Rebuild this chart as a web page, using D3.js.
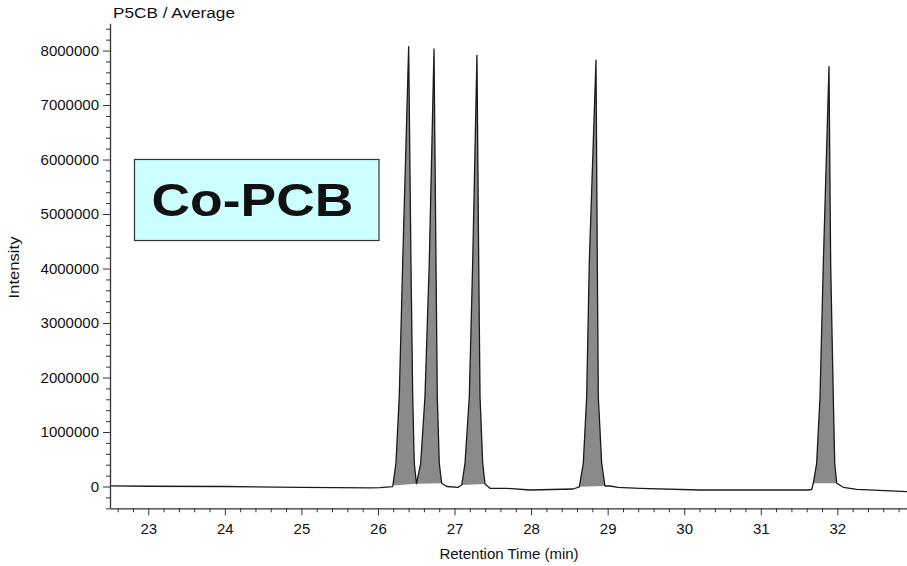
<!DOCTYPE html>
<html>
<head>
<meta charset="utf-8">
<script src="https://cdn.jsdelivr.net/npm/d3@7"></script>
<style>
  body { margin: 0; background: #fff; }
  text { font-family: "Liberation Sans", Arial, sans-serif; fill: #111; }
</style>
</head>
<body>
<script>
// chromatogram trace (min, counts)
var retentionTime = [22.5, 23.0, 24.0, 25.0, 25.9, 26.026, 26.187, 26.195,
  26.235, 26.278, 26.323, 26.401, 26.431, 26.454, 26.474, 26.503,
  26.558, 26.614, 26.670, 26.732, 26.758, 26.775, 26.801, 26.832,
  26.9, 27.049, 27.094, 27.137, 27.193, 27.237, 27.293, 27.316, 27.333, 27.368, 27.398,
  27.463, 27.681, 27.986, 28.55, 28.630,
  28.682, 28.726, 28.760, 28.848, 28.865, 28.878, 28.922, 28.965,
  29.031, 29.135, 29.422, 30.206, 31.6, 31.665, 31.686,
  31.730, 31.774, 31.817, 31.891, 31.913, 31.947, 31.966, 31.992,
  32.078, 32.253, 32.91];
var intensity = [10000, 5000, 0, -15000, -25000, -22000, -4000, 20000,
  426000, 1648000, 4095000, 8070000, 4095000, 1648000, 426000, 50000,
  426000, 1648000, 4095000, 8028000, 4095000, 1648000, 426000, 59000,
  0, -15000, 28000, 426000, 1648000, 4095000, 7912000, 4095000, 1648000, 426000, 46000,
  -33000, -33000, -64000, -46000, -5000,
  426000, 1648000, 4095000, 7826000, 4095000, 1648000, 426000, 9000,
  9000, -15000, -33000, -64000, -64000, -55000, 59000,
  426000, 1648000, 4095000, 7703000, 4095000, 1648000, 426000, 59000,
  -15000, -51000, -95000];

// integrated peak windows (shaded)
var peakStart = [26.195, 26.503, 27.094, 28.630, 31.686];
var peakEnd   = [26.503, 26.832, 27.398, 28.965, 31.992];

var xTicks = [23, 24, 25, 26, 27, 28, 29, 30, 31, 32];
var yTicks = [0, 1000000, 2000000, 3000000, 4000000, 5000000, 6000000, 7000000, 8000000];

var width = 907, height = 566;

var svg = d3.select("body")
  .append("svg")
    .attr("width", width)
    .attr("height", height);

var x = d3.scaleLinear()
  .domain([22.5, 32.91])
  .range([110, 907]);

var y = d3.scaleLinear()
  .domain([-400000, 8500000])
  .range([508.3, 23.3]);

var points = retentionTime.map(function(t, i) { return [t, intensity[i]]; });

// shaded peaks
var line = d3.line()
  .x(function(d) { return x(d[0]); })
  .y(function(d) { return y(d[1]); });

peakStart.forEach(function(s, i) {
  var pts = points.filter(function(d) { return d[0] >= s && d[0] <= peakEnd[i]; });
  svg.append("path")
    .attr("d", line(pts) + "Z")
    .attr("fill", "#8a8a8a")
    .attr("stroke", "none");
});

// trace
svg.append("path")
  .datum(points)
  .attr("d", line)
  .attr("fill", "none")
  .attr("stroke", "#1a1a1a")
  .attr("stroke-width", 1.3)
  .attr("stroke-linejoin", "round");

// y axis
var yMinor = d3.range(-400000, 8500001, 200000).filter(function(v) { return v % 1000000 !== 0; });
svg.append("g")
  .attr("transform", "translate(110,0)")
  .call(d3.axisLeft(y).tickValues(yMinor).tickSize(4).tickFormat("").tickSizeOuter(0))
  .call(function(g) { g.selectAll("line").attr("stroke", "#333"); g.select(".domain").remove(); });

svg.append("g")
  .attr("transform", "translate(110,0)")
  .call(d3.axisLeft(y).tickValues(yTicks).tickSize(7).tickPadding(4).tickFormat(d3.format("d")).tickSizeOuter(0))
  .call(function(g) {
    g.select(".domain").attr("stroke", "#333").attr("stroke-width", 1.3);
    g.selectAll("line").attr("stroke", "#333");
    g.selectAll("text").style("font-size", "15px").attr("fill", "#111");
  });

// x axis
var xMinor = d3.range(22.6, 32.95, 0.2).filter(function(v) { return Math.abs(v - Math.round(v)) > 0.05; });
svg.append("g")
  .attr("transform", "translate(0,508.3)")
  .call(d3.axisBottom(x).tickValues(xMinor).tickSize(4).tickFormat("").tickSizeOuter(0))
  .call(function(g) { g.selectAll("line").attr("stroke", "#333"); g.select(".domain").remove(); });

svg.append("g")
  .attr("transform", "translate(0,508.3)")
  .call(d3.axisBottom(x).tickValues(xTicks).tickSize(7).tickPadding(8).tickFormat(d3.format("d")).tickSizeOuter(0))
  .call(function(g) {
    g.select(".domain").attr("stroke", "#333").attr("stroke-width", 1.3);
    g.selectAll("line").attr("stroke", "#333");
    g.selectAll("text").style("font-size", "15px").attr("fill", "#111");
  });

// titles
svg.append("text")
  .attr("x", 113)
  .attr("y", 18)
  .attr("textLength", 122)
  .attr("lengthAdjust", "spacingAndGlyphs")
  .style("font-size", "14px")
  .text("P5CB / Average");

svg.append("text")
  .attr("x", 509)
  .attr("y", 559)
  .attr("text-anchor", "middle")
  .style("font-size", "15px")
  .text("Retention Time (min)");

svg.append("text")
  .attr("transform", "translate(19,267.5)rotate(-90)")
  .attr("text-anchor", "middle")
  .attr("textLength", 62)
  .attr("lengthAdjust", "spacingAndGlyphs")
  .style("font-size", "15px")
  .text("Intensity");

// Co-PCB label box
svg.append("rect")
  .attr("x", 134.5)
  .attr("y", 159.5)
  .attr("width", 244.5)
  .attr("height", 81)
  .attr("fill", "#ccffff")
  .attr("stroke", "#333")
  .attr("stroke-width", 1.2);

svg.append("text")
  .attr("x", 252.5)
  .attr("y", 216)
  .attr("text-anchor", "middle")
  .attr("textLength", 202)
  .attr("lengthAdjust", "spacingAndGlyphs")
  .style("font-size", "46px")
  .style("font-weight", "bold")
  .attr("fill", "#000")
  .text("Co-PCB");
</script>
</body>
</html>
